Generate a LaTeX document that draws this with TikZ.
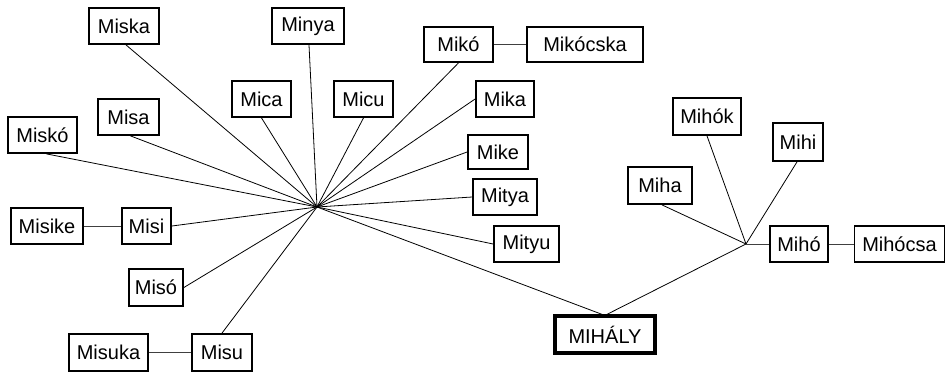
\documentclass[tikz,border=0pt]{standalone}
\usepackage{fontspec}
\setmainfont{Liberation Sans}
\begin{document}
\begin{tikzpicture}[x=1pt,y=-1pt,
  box/.style={draw, line width=1.8pt, inner sep=0pt, font=\fontsize{20}{24}\selectfont, minimum height=36pt},
  mainbox/.style={box, line width=3.3pt},
  conn/.style={line width=0.8pt},
  hconn/.style={line width=1pt, draw=black!75}]
\useasboundingbox (0,0) rectangle (946,372);
\coordinate (hub) at (317,207);
\coordinate (hubtwo) at (746,244);
\node[box, minimum width=70pt] (miska) at (124,26) {Miska};
\node[box, minimum width=72pt] (minya) at (308,26) {Minya};
\node[box, minimum width=59pt] (mica) at (261.5,99) {Mica};
\node[box, minimum width=61pt] (misa) at (128.5,117) {Misa};
\node[box, minimum width=69pt] (misko) at (42.5,135) {Miskó};
\node[box, minimum width=59pt] (micu) at (363.5,99) {Micu};
\node[box, minimum width=69pt, minimum height=35pt] (miko) at (458.5,44.5) {Mikó};
\node[box, minimum width=116pt, minimum height=35pt] (mikocska) at (585,44.5) {Mikócska};
\node[box, minimum width=58pt] (mika) at (505,99) {Mika};
\node[box, minimum width=60pt, minimum height=34pt] (mike) at (498,152) {Mike};
\node[box, minimum width=64pt] (mitya) at (505,197) {Mitya};
\node[box, minimum width=65pt] (mityu) at (526.5,244) {Mityu};
\node[box, minimum width=72pt] (misike) at (47,226) {Misike};
\node[box, minimum width=49pt] (misi) at (146.5,226) {Misi};
\node[box, minimum width=54pt, minimum height=37pt] (miso) at (156,287.5) {Misó};
\node[box, minimum width=60pt, minimum height=37pt] (misu) at (222,352.5) {Misu};
\node[box, minimum width=79pt, minimum height=37pt] (misuka) at (108.5,352.5) {Misuka};
\node[mainbox, minimum width=100pt, minimum height=37pt] (mihaly) at (605,334.5) {MIHÁLY};
\node[box, minimum width=68pt, minimum height=37pt] (mihok) at (707,116.5) {Mihók};
\node[box, minimum width=50pt, minimum height=38pt] (mihi) at (798,142) {Mihi};
\node[box, minimum width=64pt, minimum height=37pt] (miha) at (660,185.5) {Miha};
\node[box, minimum width=58pt] (miho) at (799,244) {Mihó};
\node[box, minimum width=90pt] (mihocsa) at (899.5,244) {Mihócsa};
% radial connectors
\draw[conn] (hub) -- ([xshift=2pt]miska.south);
\draw[conn] (hub) -- ([xshift=1pt]minya.south);
\draw[conn] (hub) -- (mica.south);
\draw[conn] (hub) -- ([xshift=2pt]misa.south);
\draw[conn] (hub) -- ([xshift=4pt]misko.south);
\draw[conn] (hub) -- (micu.south);
\draw[conn] (hub) -- (miko.south);
\draw[conn] (hub) -- (mika.west);
\draw[conn] (hub) -- (mike.west);
\draw[conn] (hub) -- (mitya.west);
\draw[conn] (hub) -- (mityu.west);
\draw[conn] (hub) -- (misi.east);
\draw[conn] (hub) -- (miso.east);
\draw[conn] (hub) -- (misu.north);
\draw[conn] (hub) -- ([xshift=-3pt]mihaly.north);
\draw[conn] ([xshift=2pt]mihaly.north) -- (hubtwo);
\draw[conn] (hubtwo) -- (mihok.south);
\draw[conn] (hubtwo) -- ([xshift=-1pt]mihi.south);
\draw[conn] (hubtwo) -- ([xshift=2pt]miha.south);
% horizontal connectors
\draw[hconn] (hubtwo) -- (miho.west);
\draw[hconn] (miho.east) -- (mihocsa.west);
\draw[hconn] (miko.east) -- (mikocska.west);
\draw[hconn] (misike.east) -- (misi.west);
\draw[hconn] (misuka.east) -- (misu.west);
\end{tikzpicture}
\end{document}
